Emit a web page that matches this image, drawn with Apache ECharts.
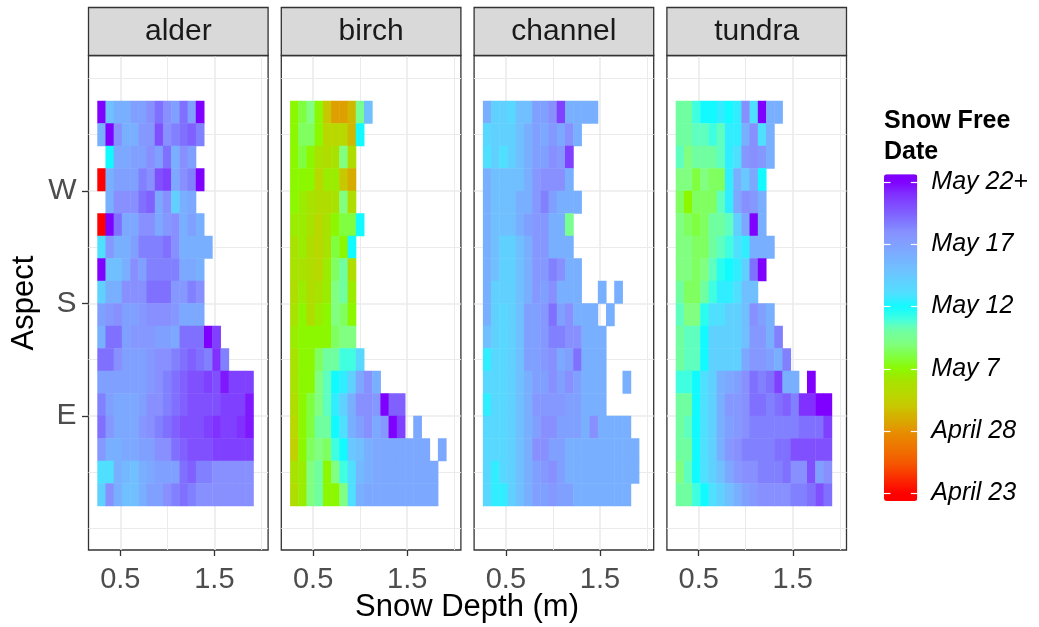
<!DOCTYPE html>
<html>
<head>
<meta charset="utf-8">
<title>Snow free date by aspect and snow depth</title>
<script src="https://cdn.jsdelivr.net/npm/echarts@6/dist/echarts.min.js"></script>
<style>
  html, body { margin: 0; padding: 0; background: #fff; }
  #chart { width: 1039px; height: 627px; }
</style>
</head>
<body>
<div id="chart"></div>
<script>
// facets
const sites = ['alder', 'birch', 'channel', 'tundra'];

// bin centres
const depthBins = [0.299, 0.386, 0.473, 0.560, 0.648, 0.735, 0.822, 0.910, 0.997, 1.084,
                   1.172, 1.259, 1.346, 1.433, 1.521, 1.608, 1.695, 1.783, 1.870];
const depthStep = 0.0873;
// top row first (north-west) down to north-east
const aspectBins = [333, 315, 297, 279, 261, 243, 225, 207, 189, 171, 153, 135, 117, 99, 81, 63, 45, 27];
const aspectStep = 18;

// tick labels
const depthTicks = [0.5, 1.5];
const depthMinor = [1.0, 2.0];
const aspectTicks = [90, 180, 270];
const aspectLabels = ['E', 'S', 'W'];
const aspectMinor = [0, 45, 135, 225, 315, 360];
const dateTicks = [0, 5, 10, 15, 20, 25];
const dateLabels = ['April 23', 'April 28', 'May 7', 'May 12', 'May 17', 'May 22+'];

// snow free date on the colour scale (0 = April 23 ... 25 = May 22+), one row per aspect bin
const alder = [
  [25, 18, 19, 19, 20, 20, 21, 22, 21, 20, 22, 20, 25],
  [19, 25, 21, 19, 19, 20.5, 20.5, 23, 21, 21.5, 22, 22.5, 21.5],
  [null, 15, 19.5, 19.5, 20, 20, 21, 20, 22, 19, 21, 20],
  [0, 19, 20, 20, 20, 21.5, 21, 23, 23.5, 19.5, 21, 21.5, 25],
  [null, 19, 21, 21, 21, 22, 22.5, 19.5, 21, 17, 19, 19.5],
  [0, 25, 22, 19.5, 19.5, 21, 21, 19.5, 20.5, 21, 19, 20, 19],
  [16, 20.5, 19, 19, 20, 21.5, 21.5, 21.5, 22, 21, 19, 19, 19, 19],
  [25, 18, 18, 19, 21, 20, 21.5, 21.5, 21.5, 21.5, 19.5, 19.5, 19],
  [17, 19, 19, 21, 21, 21, 22, 22, 22, 20.5, 20.5, 21.5, 21],
  [20, 20.5, 21, 20, 20, 20.5, 21, 21, 21, 20.5, 19.5, 19.5, 19.5],
  [19, 22, 22, 20, 20.5, 20.5, 20.5, 20, 20, 19.5, 22, 22, 22, 25, 23.5],
  [22, 22, 21, 20, 20, 20, 20.5, 21, 21, 21.5, 22, 22.5, 22, 21.5, 24, 21.5],
  [20, 20, 20, 20, 20, 20, 20.5, 21, 21.5, 22, 22.5, 23, 23, 23.5, 23, 24.5, 23.5, 23.5, 23.5],
  [21.5, 20, 19.5, 19.5, 19.5, 20, 21, 21, 21.5, 22, 22.5, 23, 23, 23, 23, 23.5, 23.5, 23.5, 24.5],
  [22, 20.5, 19.5, 19.5, 19.5, 20.5, 21, 21.5, 22, 22.5, 23, 23, 23, 23.5, 24, 23.5, 23.5, 24, 24.5],
  [20.5, 19, 19, 19.5, 19.5, 20, 20, 21, 21, 22, 22.5, 23, 23, 23, 23.5, 23.5, 23.5, 23.5, 23.5],
  [16, 16, 19, 18.5, 18, 19, 19.5, 20, 20, 20, 22, 22.5, 21.5, 21.5, 21, 21, 21, 21, 21],
  [17, 21, 19, 18, 18, 19, 20, 20, 21, 21.5, 22, 21.5, 21, 21, 21, 21, 21, 21, 21]
];
const birch = [
  [10, 11, 12, 10, 7, 5.5, 5.5, 6.5, 12.5, 18],
  [10, 11.5, 11.5, 10, 8, 8, 8, 6.5, 15],
  [10, 11, 10, 9, 8.5, 9, 12, 8.5],
  [10, 10, 10, 8, 9.5, 9.5, 7, 6],
  [10, 9.5, 9, 8.5, 8.5, 9, 12, 8.5],
  [9.5, 9.5, 9, 8, 9, 10, 11, 11, 15],
  [9, 9.5, 8.5, 8, 9, 11, 10, 15],
  [9, 9, 8.5, 8, 9.5, 11.5, 13, 8.5],
  [8.5, 9.5, 8.5, 9, 9.5, 12, 13, 9.5],
  [9, 10, 8.5, 9.5, 10, 12, 11.5, 10],
  [9.5, 10, 10, 10, 10, 11.5, 12, 12],
  [9, 10, 10, 11.5, 13, 13, 14, 14, 16.5],
  [9, 10, 10, 12, 13.5, 15, 15.5, 17, 19.5, 21, 19],
  [8.5, 10, 11, 12, 13.5, 15.5, 17, 19, 21, 21, 20.5, 25, 22.5, 22.5],
  [8, 10, 11, 13, 13, 15, 16, 19, 20, 21, 19.5, 20.5, 25, 23.5, null, 19.5],
  [7.5, 10, 11.5, 12, 11.5, 14, 15, 17.5, 18, 19, 19.5, 19.5, 19.5, 19.5, 19.5, 19.5, 19.5, null, 19.5],
  [9, 9.5, 12, 13, 10, 12, 14, 16, 18.5, 19, 19.5, 19.5, 19.5, 19.5, 19.5, 19.5, 19.5, 19.5],
  [8.5, 9.5, 12, 13, 10, 10, 12, 16, 19, 19.5, 19.5, 19.5, 19.5, 19.5, 19.5, 19.5, 19.5, 19.5]
];
const channel = [
  [19, 17, 17, 16.5, 18, 18, 20, 20, 21, 23.5, 19, 19, 19, 19],
  [16.5, 17, 17, 17, 18, 19, 20, 19.5, 20.5, 19.5, 21, 19],
  [16, 17, 16, 17, 18, 19, 20, 20, 21, 20.5, 23.5],
  [19, 18, 18, 18, 18, 19, 20.5, 21, 21, 21, 19],
  [19, 18, 18, 18, 19, 19, 20.5, 21.5, 20, 19, 19, 19],
  [19, 18, 18, 18, 19, 20, 20.5, 20.5, 19, 19, 12.5],
  [19, 18, 17, 17, 18, 19, 20.5, 20.5, 19, 19, 19],
  [19, 18, 17, 17, 18, 19, 20.5, 20.5, 21.5, 21, 19, 19],
  [19, 17, 17, 17, 18, 19, 20.5, 20, 21, 19, 19, 19, null, null, 19, null, 19],
  [19, 17, 16.5, 17, 18, 20, 20, 20.5, 22, 20, 21, 19, 19, 19, null, 19],
  [18, 17, 16.5, 17, 18, 20, 20, 20.5, 21.5, 21.5, 21, 21, 19, 19, 19],
  [15.5, 16.5, 16.5, 17, 18, 20, 20, 20.5, 21, 19.5, 20, 22, 19, 19, 19],
  [16.5, 16.5, 16.5, 17, 18, 19, 20, 20, 21, 20, 21, 20, 19, 19, 19, null, null, 19],
  [15.5, 16.5, 16.5, 17, 18, 19, 20.5, 20.5, 20.5, 20.5, 20, 20, 19, 19, 19],
  [16.5, 16.5, 16.5, 17, 18, 19, 20, 21, 21, 20, 20, 20, 19, 21, 19, 19, 19, 19],
  [16.5, 16.5, 16.5, 17, 18, 19, 21, 21, 20, 20, 19, 19, 19, 19, 19, 19, 19, 19, 19],
  [16.5, 15.5, 16.5, 17, 18, 19, 20, 20.5, 21, 20, 19, 19, 19, 19, 19, 19, 19, 19, 19],
  [16.5, 15.5, 15.5, 17, 18, 19, 20, 20, 20.5, 20, 20, 19, 19, 19, 19, 19, 19, 19]
];
const tundra = [
  [13, 13, 14, 15, 15, 15.5, 15, 15.5, 21, 16, 25, 19, 19],
  [13, 13, 13.5, 13.5, 14, 13.5, 15.5, 15.5, 19, 21, 16, 19],
  [13.5, 12, 13, 13, 13, 13.5, 15.5, 16, 20.5, 21, 20.5, 19],
  [12, 12, 11, 12, 11.5, 11.5, 15.5, 19, 17.5, 19.5, 15],
  [11.5, 10, 11.5, 11.5, 11.5, 13.5, 15.5, 19.5, 21, 20.5, 19],
  [12, 11.5, 11, 11.5, 13, 13, 13.5, 17, 19.5, 25, 19],
  [12, 12, 11.5, 11.5, 13, 13.5, 14, 16, 15.5, 19, 19, 19],
  [12, 12, 11.5, 12, 13.5, 14.5, 15, 15.5, 17, 22, 25],
  [13, 11.5, 11.5, 13, 14, 15.5, 15.5, 16, 18, 18],
  [13.5, 12, 12, 14.5, 16, 16, 17, 17, 18, 21, 20, 19],
  [13, 13.5, 13.5, 15, 17, 17, 17, 17, 18, 20.5, 20.5, 19, 21.5],
  [13, 13.5, 13.5, 15, 17, 17, 17, 17, 19.5, 20.5, 20.5, 20, 19, 21.5],
  [14, 14, 15, 16, 17, 19, 19.5, 20, 21, 22, 21.5, 22, 23.5, 19, 19, null, 25],
  [13, 13, 15, 16, 17, 19, 20.5, 20.5, 21, 22, 22, 21.5, 22, 22.5, 21.5, 24, 24, 25, 25],
  [13, 13.5, 15, 16, 17, 19, 20, 20.5, 21, 21.5, 21.5, 21.5, 21.5, 21.5, 21.5, 22, 22, 22, 23.5],
  [13, 13, 15, 16, 17, 19, 20.5, 21, 21.5, 21.5, 21.5, 21.5, 22, 22, 23, 23, 23, 23, 23],
  [12, 13.5, 15, 16, 17, 18, 19.5, 20.5, 21, 21, 21.5, 21.5, 21.5, 22, 21, 21, 23, 20, 21],
  [13, 13, 14, 15, 16, 17, 18, 19, 20, 20.5, 21, 21, 21, 21, 21.5, 21.5, 22, 23, 22]
];
const siteRows = [alder, birch, channel, tundra];

// colour scale
const scaleMin = -0.6, scaleMax = 25.6;
const scaleStops = [
  [0, '#ff0000'], [2.5, '#f55a00'], [5, '#e69000'], [5.5, '#dda000'], [6.5, '#d0b800'],
  [7, '#c8c800'], [8, '#b8d800'], [9, '#a8e200'], [10, '#8cf800'], [11, '#80ff40'],
  [12, '#80ff80'], [13, '#70ffa0'], [13.5, '#60ffc0'], [14, '#40ffe0'], [15, '#10faff'],
  [16, '#50e0ff'], [17, '#60d0ff'], [18, '#70c0ff'], [19, '#78b0ff'], [20, '#80a0ff'],
  [21, '#8890ff'], [21.5, '#8080ff'], [22, '#8070ff'], [23, '#8050ff'], [24, '#8030ff'],
  [25, '#8000ff']
];

function hexRgb(h) {
  return [1, 3, 5].map(i => parseInt(h.slice(i, i + 2), 16));
}
function colourAt(v) {
  if (v <= scaleStops[0][0]) return scaleStops[0][1];
  for (let i = 1; i < scaleStops.length; i++) {
    const [v1, c1] = scaleStops[i];
    if (v <= v1) {
      const [v0, c0] = scaleStops[i - 1];
      const t = (v - v0) / (v1 - v0);
      const a = hexRgb(c0), b = hexRgb(c1);
      return 'rgb(' + a.map((x, k) => Math.round(x + (b[k] - x) * t)).join(',') + ')';
    }
  }
  return scaleStops[scaleStops.length - 1][1];
}
const scaleColours = [];
for (let v = scaleMin; v <= scaleMax + 1e-9; v += 0.2) scaleColours.push(colourAt(v));

// layout
const font = '"Liberation Sans", Arial, sans-serif';
const panelLeft = 88.5, panelStep = 192.8, panelW = 179.6;
const panelTop = 55.5, panelH = 494.5, stripTop = 7.5;
const depthMin = 0.162, depthMax = 2.071;
const aspectMin = -17.4, aspectMax = 378.2;

function tileData(rows) {
  const out = [];
  rows.forEach((row, r) => {
    row.forEach((v, c) => {
      if (v !== null) out.push([depthBins[c], aspectBins[r], v]);
    });
  });
  return out;
}

function renderTile(params, api) {
  const x = api.value(0), y = api.value(1);
  const p0 = api.coord([x - depthStep / 2, y + aspectStep / 2]);
  const p1 = api.coord([x + depthStep / 2, y - aspectStep / 2]);
  return {
    type: 'rect',
    shape: { x: p0[0], y: p0[1], width: p1[0] - p0[0] + 0.5, height: p1[1] - p0[1] + 0.5 },
    style: { fill: api.visual('color') }
  };
}

const grid = [], xAxis = [], yAxis = [], series = [], graphic = [];
sites.forEach((site, i) => {
  const left = panelLeft + panelStep * i;
  grid.push({
    left: left, top: panelTop, width: panelW, height: panelH,
    show: true, backgroundColor: '#fff', borderColor: '#333333', borderWidth: 1.3
  });
  xAxis.push({
    gridIndex: i, type: 'value', min: depthMin, max: depthMax, position: 'bottom',
    axisLine: { show: false, onZero: false },
    axisTick: { show: true, customValues: depthTicks, length: 6, lineStyle: { color: '#333333', width: 1.3 } },
    axisLabel: { customValues: depthTicks, formatter: v => v.toFixed(1), fontSize: 29,
                 color: '#4D4D4D', fontFamily: font, margin: 15 },
    splitLine: { show: true, lineStyle: { color: '#EBEBEB', width: 1.6 } }
  });
  xAxis.push({
    gridIndex: i, type: 'value', min: depthMin, max: depthMax, position: 'top',
    axisLine: { show: false, onZero: false },
    axisTick: { show: false, customValues: depthMinor },
    axisLabel: { show: false, customValues: depthMinor },
    splitLine: { show: true, lineStyle: { color: '#EBEBEB', width: 1 } }
  });
  yAxis.push({
    gridIndex: i, type: 'value', min: aspectMin, max: aspectMax, position: 'left',
    axisLine: { show: false, onZero: false },
    axisTick: { show: i === 0, customValues: aspectTicks, length: 6.5, lineStyle: { color: '#333333', width: 1.3 } },
    axisLabel: { show: i === 0, customValues: aspectTicks,
                 formatter: v => aspectLabels[aspectTicks.indexOf(v)],
                 fontSize: 30, color: '#4D4D4D', fontFamily: font, margin: 12 },
    splitLine: { show: true, lineStyle: { color: '#EBEBEB', width: 1.6 } }
  });
  yAxis.push({
    gridIndex: i, type: 'value', min: aspectMin, max: aspectMax, position: 'right',
    axisLine: { show: false, onZero: false },
    axisTick: { show: false, customValues: aspectMinor },
    axisLabel: { show: false, customValues: aspectMinor },
    splitLine: { show: true, lineStyle: { color: '#EBEBEB', width: 1 } }
  });
  series.push({
    name: site, type: 'custom', coordinateSystem: 'cartesian2d',
    xAxisIndex: 2 * i, yAxisIndex: 2 * i,
    encode: { x: 0, y: 1 },
    data: tileData(siteRows[i]),
    renderItem: renderTile
  });
  // facet strip
  graphic.push({
    type: 'rect', z: 5,
    shape: { x: left, y: stripTop, width: panelW, height: panelTop - stripTop },
    style: { fill: '#D9D9D9', stroke: '#333333', lineWidth: 1.3 }
  });
  graphic.push({
    type: 'text', z: 6, x: left + panelW / 2, y: (stripTop + panelTop) / 2,
    style: { text: site, fontSize: 30, fontFamily: font, fill: '#1A1A1A', align: 'center', verticalAlign: 'middle' }
  });
});

// colour bar labels and ticks
const barLeft = 884, barTop = 174.3, barW = 33.3, barH = 326.7;
grid.push({ left: barLeft, top: barTop, width: barW, height: barH, show: false });
xAxis.push({ gridIndex: 4, type: 'value', min: 0, max: 1, show: false });
[false, true].forEach(right => {
  yAxis.push({
    gridIndex: 4, type: 'value', min: scaleMin, max: scaleMax, z: 10,
    position: right ? 'right' : 'left',
    axisLine: { show: false, onZero: false },
    axisTick: { show: true, inside: true, customValues: dateTicks, length: 6.5,
                lineStyle: { color: '#ffffff', width: 1.2 } },
    axisLabel: { show: right, customValues: dateTicks,
                 formatter: v => dateLabels[dateTicks.indexOf(v)],
                 fontSize: 25, fontStyle: 'italic', color: '#000', fontFamily: font, margin: 14 },
    splitLine: { show: false }
  });
});

graphic.push({
  type: 'text', x: 467, y: 607,
  style: { text: 'Snow Depth (m)', fontSize: 31, fontFamily: font, fill: '#000', align: 'center', verticalAlign: 'middle' }
});
graphic.push({
  type: 'text', x: 24, y: 303, rotation: Math.PI / 2,
  style: { text: 'Aspect', fontSize: 31, fontFamily: font, fill: '#000', align: 'center', verticalAlign: 'middle' }
});
graphic.push({
  type: 'text', x: 884, y: 106,
  style: { text: 'Snow Free\nDate', fontSize: 25, fontWeight: 'bold', lineHeight: 31,
           fontFamily: font, fill: '#000', align: 'left', verticalAlign: 'top' }
});

const chart = echarts.init(document.getElementById('chart'));
chart.setOption({
  animation: false,
  grid: grid,
  xAxis: xAxis,
  yAxis: yAxis,
  visualMap: {
    type: 'continuous', seriesIndex: [0, 1, 2, 3], dimension: 2,
    min: scaleMin, max: scaleMax, calculable: false, hoverLink: false,
    left: barLeft, top: barTop, itemWidth: barW, itemHeight: barH, padding: 0,
    inRange: { color: scaleColours }
  },
  series: series,
  graphic: graphic
});
</script>
</body>
</html>
